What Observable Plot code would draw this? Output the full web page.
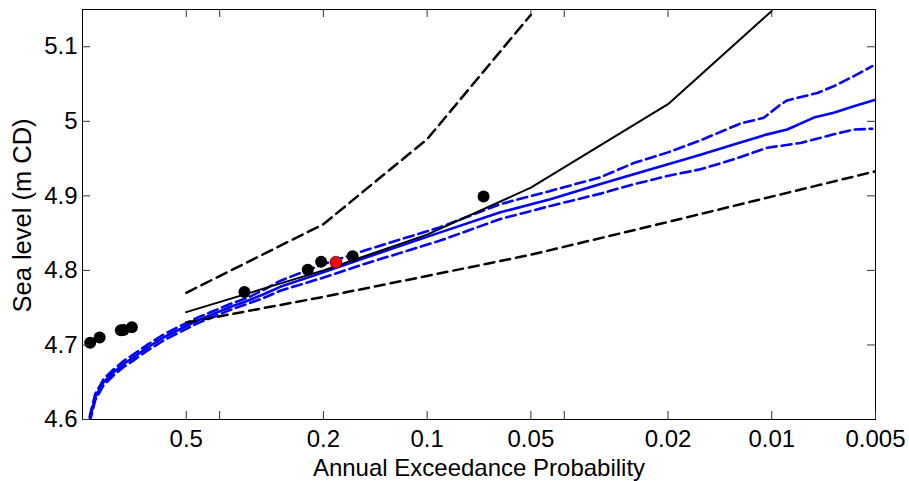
<!DOCTYPE html>
<html><head><meta charset="utf-8">
<script src="https://cdn.jsdelivr.net/npm/d3@7"></script>
<script src="https://cdn.jsdelivr.net/npm/@observablehq/plot@0.6"></script>
<style>body{margin:0;background:#fff} #chart svg{display:block}</style>
</head><body><div id="chart"></div>
<script>
// ---- tick values / labels ----
const xTicks = [0.5, 0.4, 0.2, 0.1, 0.05, 0.04, 0.02, 0.01, 0.005];
const xLabelTicks = [0.5, 0.2, 0.1, 0.05, 0.02, 0.01, 0.005];
const xTickLabels = ["0.5", "0.2", "0.1", "0.05", "0.02", "0.01", "0.005"];
const yTicks = [4.6, 4.7, 4.8, 4.9, 5.0, 5.1];
const yTickLabels = ["4.6", "4.7", "4.8", "4.9", "5", "5.1"];
const xTitle = "Annual Exceedance Probability";
const yTitle = "Sea level (m CD)";

// ---- observed annual maxima (plotting positions) ----
const obsP = [0.950, 0.892, 0.774, 0.760, 0.719, 0.339, 0.222, 0.203, 0.1645, 0.0686];
const obsLevel = [4.703, 4.710, 4.7196, 4.720, 4.7236, 4.771, 4.801, 4.8115, 4.819, 4.899];
const highlightP = [0.184];
const highlightLevel = [4.811];

// ---- fitted extreme value curve and confidence bounds (black) ----
const fitP = [0.5, 0.2, 0.1, 0.05, 0.02, 0.01];
const fitLevel = [4.744, 4.800, 4.848, 4.911, 5.023, 5.148];
const fitUpperP = [0.5, 0.2, 0.1, 0.05];
const fitUpperLevel = [4.770, 4.862, 4.976, 5.143];
const fitLowerP = [0.5, 0.2, 0.1, 0.05, 0.02, 0.01, 0.005];
const fitLowerLevel = [4.730, 4.7645, 4.7926, 4.821, 4.865, 4.899, 4.933];

// ---- simulated curve and bounds (blue) ----
const simP = [0.988, 0.950, 0.9186, 0.869, 0.813, 0.760, 0.711, 0.650, 0.582, 0.520, 0.466, 0.417, 0.373, 0.333, 0.298, 0.267, 0.2042, 0.1511, 0.0916, 0.0613, 0.0439, 0.0314, 0.02516, 0.02011, 0.01610, 0.01289, 0.01031, 0.00902, 0.00755, 0.00661, 0.00578, 0.005];
const simLevel = [4.56, 4.603, 4.630, 4.650, 4.663, 4.6745, 4.6834, 4.696, 4.710, 4.7214, 4.7325, 4.7415, 4.751, 4.759, 4.768, 4.778, 4.796, 4.817, 4.851, 4.878, 4.8954, 4.916, 4.929, 4.942, 4.955, 4.969, 4.9825, 4.989, 5.005, 5.0114, 5.0203, 5.029];
const simUpperP = [0.988, 0.950, 0.9186, 0.869, 0.813, 0.760, 0.711, 0.650, 0.582, 0.520, 0.466, 0.417, 0.373, 0.333, 0.298, 0.267, 0.2042, 0.1511, 0.0916, 0.0613, 0.0439, 0.0314, 0.02516, 0.02011, 0.01610, 0.01233, 0.01055, 0.00943, 0.00902, 0.00738, 0.00661, 0.00578, 0.00511];
const simUpperLevel = [4.564, 4.607, 4.634, 4.654, 4.667, 4.6785, 4.6874, 4.700, 4.714, 4.7254, 4.7363, 4.7455, 4.755, 4.763, 4.774, 4.786, 4.807, 4.827, 4.858, 4.889, 4.9066, 4.925, 4.944, 4.958, 4.9745, 4.997, 5.0047, 5.0226, 5.028, 5.038, 5.047, 5.0605, 5.074];
const simLowerP = [0.988, 0.950, 0.9186, 0.869, 0.813, 0.760, 0.711, 0.650, 0.582, 0.520, 0.466, 0.417, 0.373, 0.333, 0.298, 0.267, 0.2042, 0.1511, 0.0916, 0.0613, 0.0439, 0.0314, 0.02516, 0.02011, 0.01610, 0.01289, 0.01031, 0.00825, 0.00661, 0.00578, 0.00511];
const simLowerLevel = [4.556, 4.599, 4.626, 4.646, 4.659, 4.6705, 4.6794, 4.692, 4.706, 4.7174, 4.7287, 4.7375, 4.747, 4.755, 4.763, 4.7727, 4.789, 4.809, 4.840, 4.869, 4.8865, 4.903, 4.9155, 4.9266, 4.9356, 4.949, 4.9645, 4.971, 4.9825, 4.989, 4.990];

const rows = (ps, vs) => ps.map((p, i) => ({p, v: vs[i]}));
const font = "'Liberation Sans', Arial, Helvetica, sans-serif";

const W = 909, H = 481, mL = 82, mR = 34, mT = 9, mB = 62;
const frameW = W - mL - mR, frameH = H - mT - mB, tickLen = 8;
const tickStroke = {stroke: "#333", strokeWidth: 1};

const chart = Plot.plot({
  width: W,
  height: H,
  marginLeft: mL,
  marginRight: mR,
  marginTop: mT,
  marginBottom: mB,
  style: {fontFamily: font, fontSize: "24px", color: "black", background: "white"},
  x: {type: "log", domain: [1, 0.005], axis: null},
  y: {domain: [4.6, 5.15], axis: null},
  marks: [
    Plot.line(rows(simLowerP, simLowerLevel), {x: "p", y: "v", stroke: "#0000ff", strokeWidth: 2.6, strokeDasharray: "10,5", clip: true}),
    Plot.line(rows(simUpperP, simUpperLevel), {x: "p", y: "v", stroke: "#0000ff", strokeWidth: 2.6, strokeDasharray: "10,5", clip: true}),
    Plot.line(rows(simP, simLevel), {x: "p", y: "v", stroke: "#0000ff", strokeWidth: 2.6, clip: true}),
    Plot.line(rows(fitLowerP, fitLowerLevel), {x: "p", y: "v", stroke: "black", strokeWidth: 2.5, strokeDasharray: "10,6", clip: true}),
    Plot.line(rows(fitUpperP, fitUpperLevel), {x: "p", y: "v", stroke: "black", strokeWidth: 2.5, strokeDasharray: "11,6", clip: true}),
    Plot.line(rows(fitP, fitLevel), {x: "p", y: "v", stroke: "black", strokeWidth: 2, clip: true}),
    Plot.dot(rows(obsP, obsLevel), {x: "p", y: "v", r: 6, fill: "black"}),
    Plot.dot(rows(highlightP, highlightLevel), {x: "p", y: "v", r: 6, fill: "#ff0000", stroke: "black", strokeWidth: 0.6}),
    Plot.frame({stroke: "black", strokeWidth: 1}),
    // inward tick marks on all four sides
    Plot.ruleX(xTicks, {x: d => d, insetTop: frameH - tickLen, ...tickStroke}),
    Plot.ruleX(xTicks.slice(0, 8), {x: d => d, insetBottom: frameH - tickLen, ...tickStroke}),
    Plot.ruleY(yTicks, {y: d => d, insetRight: frameW - tickLen, ...tickStroke}),
    Plot.ruleY(yTicks.slice(1), {y: d => d, insetLeft: frameW - tickLen, ...tickStroke}),
    // tick labels
    Plot.text(xLabelTicks, {x: d => d, text: (d, i) => xTickLabels[i], frameAnchor: "bottom", dy: 10, lineAnchor: "top", textAnchor: "middle", fontSize: 24, fill: "black"}),
    Plot.text(yTicks, {y: d => d, text: (d, i) => yTickLabels[i], frameAnchor: "left", dx: -5, textAnchor: "end", fontSize: 24, fill: "black"}),
    // axis titles
    Plot.text([xTitle], {frameAnchor: "bottom", dy: 56, lineAnchor: "bottom", textAnchor: "middle", fontSize: 24, fill: "black"}),
    Plot.text([yTitle], {frameAnchor: "left", dx: -52, dy: 1, rotate: -90, lineAnchor: "bottom", textAnchor: "middle", fontSize: 25.5, fill: "black"})
  ]
});
document.getElementById("chart").appendChild(chart);
</script>
</body></html>
